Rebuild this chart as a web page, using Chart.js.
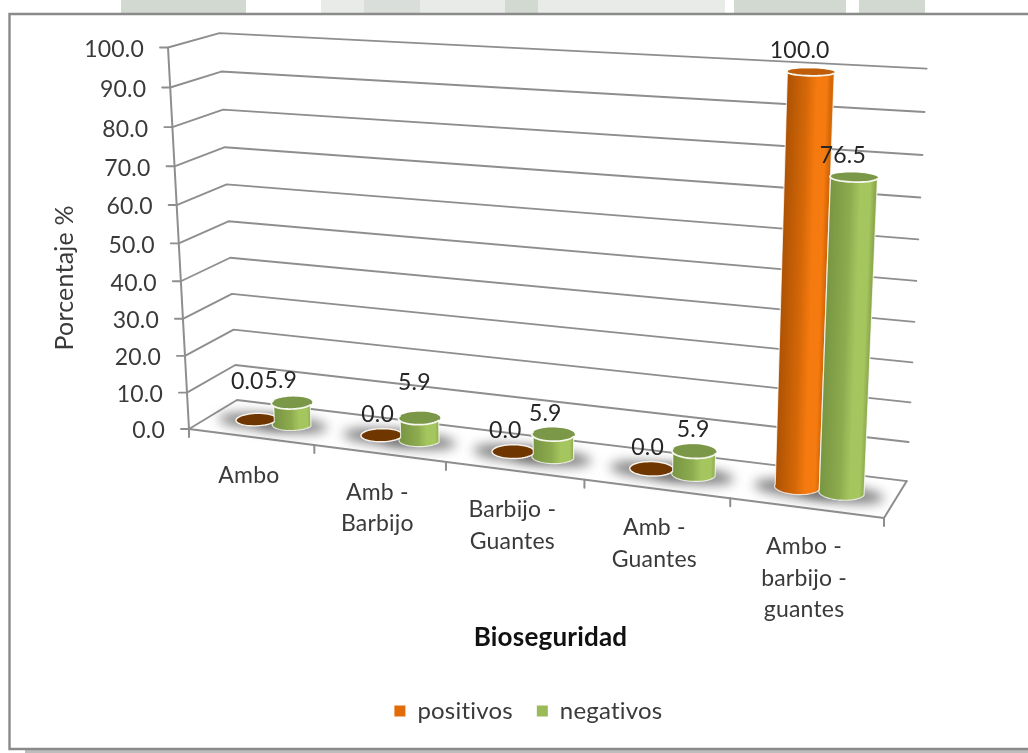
<!DOCTYPE html>
<html>
<head>
<meta charset="utf-8">
<title>Bioseguridad</title>
<script src="https://cdn.jsdelivr.net/npm/chart.js@4"></script>
<style>
  html, body { margin: 0; padding: 0; background: #fff; overflow: hidden; }
  canvas { display: block; }
</style>
</head>
<body>
<canvas id="grafico" width="1028" height="753"></canvas>
<script>
const categorias = [['Ambo'], ['Amb -', 'Barbijo'], ['Barbijo -', 'Guantes'], ['Amb -', 'Guantes'], ['Ambo -', 'barbijo -', 'guantes']];
const positivos = [0.0, 0.0, 0.0, 0.0, 100.0];
const negativos = [5.9, 5.9, 5.9, 5.9, 76.5];
const etiquetasY = ['0.0', '10.0', '20.0', '30.0', '40.0', '50.0', '60.0', '70.0', '80.0', '90.0', '100.0'];

const FUENTE = 'Lato, sans-serif';
const COLOR_TEXTO = '#3a3a3a';
const COLOR_REJILLA = '#8e8e8e';

// Caja 3D de la grafica: esquinas vistas en pantalla y fuga de cada eje
const O = { x: 189, y: 429 };   // origen, frente izquierda
const A = { x: 884, y: 518 };   // frente derecha
const B = { x: 237, y: 400 };   // fondo izquierda
const C = { x: 168, y: 47.5 };  // eje de valores, arriba
const fugaU = -0.12, fugaW = 0.042, fugaH = -0.052;

// u: a lo largo de las categorias, w: profundidad, h: altura (todo 0..1)
function proyectar(u, w, h) {
    const d = 1 + fugaU * u + fugaW * w + fugaH * h;
    const eje = k => O[k]
        + u * ((1 + fugaU) * A[k] - O[k])
        + w * ((1 + fugaW) * B[k] - O[k])
        + h * ((1 + fugaH) * C[k] - O[k]);
    return { x: eje('x') / d, y: eje('y') / d };
}

function linea(ctx, p, q) {
    ctx.beginPath();
    ctx.moveTo(p.x, p.y);
    ctx.lineTo(q.x, q.y);
    ctx.stroke();
}

// Puntos del circulo de la base/tapa de un cilindro, ya proyectados
function anillo(u, w, h, ru, rw, desde, hasta, pasos) {
    const puntos = [];
    for (let i = 0; i <= pasos; i++) {
        const t = desde + (hasta - desde) * i / pasos;
        puntos.push(proyectar(u + ru * Math.cos(t), w + rw * Math.sin(t), h));
    }
    return puntos;
}

function trazar(ctx, puntos, continuar) {
    puntos.forEach((p, i) => {
        if (i === 0 && !continuar) ctx.moveTo(p.x, p.y);
        else ctx.lineTo(p.x, p.y);
    });
}

const PROF_CENTRO = 0.5, PROF_RADIO = 0.2;

const ESTILOS = [
    { oscuro: '#ad5204', medio: '#d56807', claro: '#f57a0f', tapa: '#bf5d08', cero: '#703600' },
    { oscuro: '#789542', medio: '#8dab4e', claro: '#a5c55f', tapa: '#7b9848', cero: '#7b9848' }
];

function sombraPiso(ctx, u, ru) {
    const borde = anillo(u, PROF_CENTRO - 0.04, 0, ru * 1.9, PROF_RADIO * 1.1, 0, Math.PI * 2, 48);
    ctx.save();
    ctx.filter = 'blur(6px)';
    ctx.fillStyle = 'rgba(105,105,105,0.85)';
    ctx.beginPath();
    trazar(ctx, borde);
    ctx.closePath();
    ctx.fill();
    ctx.restore();
}

function cilindro(ctx, u, h, ru, estilo) {
    const w = PROF_CENTRO, rw = PROF_RADIO;
    const tapa = anillo(u, w, h, ru, rw, 0, Math.PI * 2, 48);

    if (h === 0) {
        ctx.fillStyle = estilo.cero;
        ctx.strokeStyle = '#f4f0ea';
        ctx.lineWidth = 1.5;
        ctx.beginPath();
        trazar(ctx, tapa);
        ctx.closePath();
        ctx.fill();
        ctx.stroke();
        return;
    }

    const frente = anillo(u, w, 0, ru, rw, 0, -Math.PI, 24);
    const atras = anillo(u, w, h, ru, rw, Math.PI, 0, 24);
    const izqAbajo = frente[frente.length - 1], derAbajo = frente[0];
    const izqArriba = atras[0];

    const cuerpo = () => {
        ctx.beginPath();
        trazar(ctx, frente);
        trazar(ctx, atras, true);
        ctx.closePath();
    };

    // degradado inclinado para seguir la fuga del cilindro
    ctx.save();
    cuerpo();
    ctx.clip();
    const alto = izqAbajo.y - izqArriba.y;
    const corte = alto > 1 ? (izqArriba.x - izqAbajo.x) / -alto : 0;
    ctx.transform(1, 0, corte, 1, -corte * izqAbajo.y, 0);
    const g = ctx.createLinearGradient(izqAbajo.x, 0, derAbajo.x, 0);
    g.addColorStop(0, estilo.oscuro);
    g.addColorStop(0.45, estilo.medio);
    g.addColorStop(0.68, estilo.claro);
    g.addColorStop(0.9, estilo.claro);
    g.addColorStop(1, estilo.medio);
    ctx.fillStyle = g;
    ctx.fillRect(izqAbajo.x - 60, izqArriba.y - 20, derAbajo.x - izqAbajo.x + 120, alto + 60);
    ctx.restore();

    ctx.strokeStyle = 'rgba(255,255,255,0.75)';
    ctx.lineWidth = 1.2;
    cuerpo();
    ctx.stroke();

    ctx.fillStyle = estilo.tapa;
    ctx.beginPath();
    trazar(ctx, tapa);
    ctx.closePath();
    ctx.fill();

    ctx.strokeStyle = '#f6f8f0';
    ctx.lineWidth = 1.8;
    ctx.beginPath();
    trazar(ctx, anillo(u, w, h, ru, rw, 0, -Math.PI, 24));
    ctx.stroke();
}

// Ajuste manual de cada etiqueta de valor [dx, dy] respecto a la tapa de su barra
const ajusteEtiquetas = [
    [[-9, -38], [-4, -21], [-8, -21], [-4, -21], [-11, -21]],
    [[-11, -22], [-5, -36], [-8, -21], [-1, -22], [-11, -22]]
];

const escena3d = {
    id: 'escena3d',
    beforeDraw(chart) {
        const ctx = chart.ctx;
        // sin ligaduras en ningun texto del lienzo
        ctx.letterSpacing = '0.2px';
        ctx.save();
        ctx.fillStyle = '#ffffff';
        ctx.fillRect(0, 0, chart.width, chart.height);
        // marca de agua que asoma sobre el marco
        [[121, 246, '#d2d9d0'], [321, 505, '#e8ebe8'], [364, 420, '#d9dedb'], [505, 538, '#d2d9d0'],
         [538, 725, '#e8ebe8'], [734, 846, '#d2d9d0'], [859, 925, '#d2d9d0']].forEach(([a, b, c]) => {
            ctx.fillStyle = c;
            ctx.fillRect(a, 0, b - a, 14);
        });
        // marco y su sombra inferior
        ctx.fillStyle = '#bdbdbd';
        ctx.fillRect(25, 750, chart.width - 25, 3);
        ctx.fillStyle = '#ffffff';
        ctx.fillRect(10, 14, chart.width - 10, 735);
        ctx.strokeStyle = '#8a8a8a';
        ctx.lineWidth = 2.4;
        ctx.beginPath();
        ctx.moveTo(chart.width + 4, 14);
        ctx.lineTo(9.5, 14);
        ctx.lineTo(9.5, 749);
        ctx.lineTo(chart.width + 4, 749);
        ctx.stroke();
        ctx.restore();
    },
    beforeDatasetsDraw(chart) {
        const ctx = chart.ctx;
        const area = chart.chartArea;
        const escY = chart.scales.y;
        const altura = v => (escY.bottom - escY.getPixelForValue(v)) / escY.height;

        ctx.save();
        ctx.lineCap = 'round';
        ctx.lineJoin = 'round';

        // rejilla: pared lateral y pared del fondo
        ctx.strokeStyle = COLOR_REJILLA;
        ctx.lineWidth = 1.9;
        etiquetasY.forEach(etq => {
            const h = altura(parseFloat(etq));
            const frente = proyectar(0, 0, h);
            const fondo = proyectar(0, 1, h);
            ctx.beginPath();
            ctx.moveTo(frente.x - 8, frente.y);
            ctx.lineTo(frente.x, frente.y);
            ctx.lineTo(fondo.x, fondo.y);
            ctx.lineTo(proyectar(1, 1, h).x, proyectar(1, 1, h).y);
            ctx.stroke();
        });

        // piso y ejes
        ctx.lineWidth = 2;
        linea(ctx, proyectar(0, 0, 0), proyectar(0, 0, 1));
        linea(ctx, proyectar(0, 0, 0), proyectar(1, 0, 0));
        linea(ctx, proyectar(1, 0, 0), proyectar(1, 1, 0));
        for (let i = 0; i <= categorias.length; i++) {
            const p = proyectar(i / categorias.length, 0, 0);
            linea(ctx, p, { x: p.x, y: p.y + 8 });
        }

        // sombras en el piso, luego los cilindros de atras hacia adelante
        const barras = chart.data.datasets.map((_, d) => chart.getDatasetMeta(d).data);
        barras.forEach(lista => lista.forEach(b => {
            sombraPiso(ctx, (b.x - area.left) / area.width, b.width / area.width / 2);
        }));
        categorias.forEach((_, i) => {
            barras.forEach((lista, d) => {
                const b = lista[i];
                const u = (b.x - area.left) / area.width;
                cilindro(ctx, u, (escY.bottom - b.y) / escY.height, b.width / area.width / 2, ESTILOS[d]);
            });
        });

        // textos de los ejes
        ctx.fillStyle = COLOR_TEXTO;
        ctx.textBaseline = 'middle';
        ctx.font = '23px ' + FUENTE;
        ctx.textAlign = 'right';
        etiquetasY.forEach(etq => {
            const p = proyectar(0, 0, altura(parseFloat(etq)));
            ctx.fillText(etq, p.x - 24, p.y + 2);
        });
        ctx.textAlign = 'center';
        categorias.forEach((lineas, i) => {
            const p = proyectar((i + 0.5) / categorias.length, 0, 0);
            lineas.forEach((txt, n) => ctx.fillText(txt, p.x - 2, p.y + 39 + n * 31.5));
        });

        // valores sobre cada cilindro
        ctx.fillStyle = '#262626';
        barras.forEach((lista, d) => lista.forEach((b, i) => {
            const u = (b.x - area.left) / area.width;
            const h = (escY.bottom - b.y) / escY.height;
            const p = proyectar(u, PROF_CENTRO, h);
            const [dx, dy] = ajusteEtiquetas[d][i];
            ctx.fillText(chart.data.datasets[d].data[i].toFixed(1), p.x + dx, p.y + dy);
        }));

        ctx.restore();
        return false;
    }
};

new Chart(document.getElementById('grafico'), {
    type: 'bar',
    data: {
        labels: categorias,
        datasets: [
            { label: 'positivos', data: positivos, backgroundColor: '#e36c09', borderWidth: 0 },
            { label: 'negativos', data: negativos, backgroundColor: '#9bbb59', borderWidth: 0 }
        ]
    },
    options: {
        responsive: false,
        animation: false,
        categoryPercentage: 0.59,
        barPercentage: 1,
        layout: { padding: { left: 50, right: 24, top: 28, bottom: 20 } },
        scales: {
            x: {
                grid: { display: false },
                border: { display: false },
                ticks: { display: false },
                title: {
                    display: true,
                    text: 'Bioseguridad',
                    color: '#111111',
                    font: { family: FUENTE, size: 26, weight: 'bold' },
                    padding: { top: 86, bottom: 22 }
                }
            },
            y: {
                min: 0,
                max: 100,
                grid: { display: false },
                border: { display: false },
                ticks: { display: false, stepSize: 10 },
                title: {
                    display: true,
                    text: 'Porcentaje %',
                    color: COLOR_TEXTO,
                    font: { family: FUENTE, size: 25 },
                    padding: { top: 0, bottom: 9 }
                }
            }
        },
        plugins: {
            tooltip: { enabled: false },
            legend: {
                position: 'bottom',
                labels: {
                    color: COLOR_TEXTO,
                    font: { family: FUENTE, size: 24 },
                    boxWidth: 11,
                    boxHeight: 11,
                    padding: 24
                }
            }
        }
    },
    plugins: [escena3d]
});
</script>
</body>
</html>
